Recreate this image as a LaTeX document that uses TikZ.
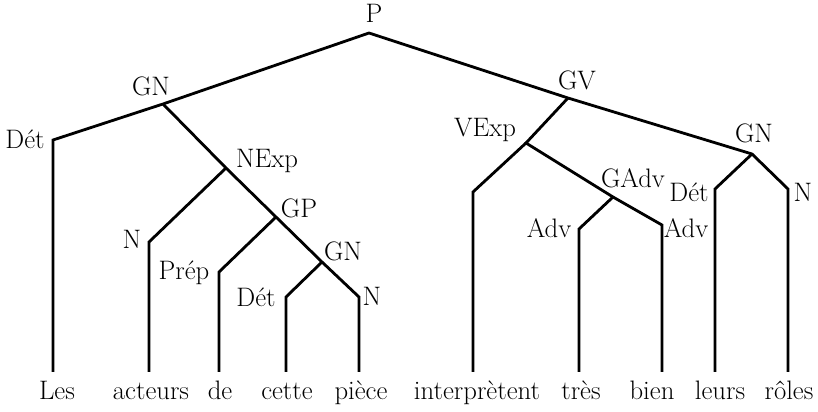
\documentclass[tikz,border=0pt]{standalone}
\usepackage{fontspec}
\begin{document}
\begin{tikzpicture}[x=0.025cm,y=-0.025cm,
	br/.style={line width=2pt,line join=miter},
	lab/.style={anchor=base,inner sep=0pt,font=\fontsize{19}{22}\selectfont},
	word/.style={anchor=base,inner sep=0pt,font=\fontsize{19}{22}\selectfont}]
	\useasboundingbox (0,0) rectangle (818,412);
	% branching points
	\coordinate (p) at (369,33);
	\coordinate (gnA) at (163,104);
	\coordinate (dA) at (53,140);
	\coordinate (nexp) at (226,168);
	\coordinate (nA) at (149,242);
	\coordinate (gp) at (276,217);
	\coordinate (prep) at (219,272);
	\coordinate (gnB) at (322,262);
	\coordinate (dB) at (286,297);
	\coordinate (nB) at (359,297);
	\coordinate (gv) at (568,98);
	\coordinate (vexp) at (526,143);
	\coordinate (v) at (473,192);
	\coordinate (gadv) at (613,197);
	\coordinate (advA) at (579,229);
	\coordinate (advB) at (662,225);
	\coordinate (gnC) at (752,154);
	\coordinate (dC) at (715,189);
	\coordinate (nC) at (788,189);
	\coordinate (foot) at (0,372);
	% tree
	\draw[br] (dA |- foot) -- (dA) -- (gnA) -- (p) -- (gv) -- (gnC) -- (nC) -- (nC |- foot);
	\draw[br] (gnA) -- (nexp) -- (gp) -- (gnB) -- (nB) -- (nB |- foot);
	\draw[br] (nA |- foot) -- (nA) -- (nexp);
	\draw[br] (prep |- foot) -- (prep) -- (gp);
	\draw[br] (dB |- foot) -- (dB) -- (gnB);
	\draw[br] (gv) -- (vexp) -- (gadv) -- (advB) -- (advB |- foot);
	\draw[br] (v |- foot) -- (v) -- (vexp);
	\draw[br] (advA |- foot) -- (advA) -- (gadv);
	\draw[br] (dC |- foot) -- (dC) -- (gnC);
	% labels
	\node[lab] (lP) at (374,23) {P};
	\node[lab] (lGNa) at (151,96) {GN};
	\node[lab] (lDa) at (25,149) {Dét};
	\node[lab] (lNExp) at (267,168) {NExp};
	\node[lab] (lNa) at (132,249) {N};
	\node[lab] (lGP) at (299,218) {GP};
	\node[lab] (lPrep) at (184,280) {Prép};
	\node[lab] (lGNb) at (343,261) {GN};
	\node[lab] (lDb) at (256,307) {Dét};
	\node[lab] (lNb) at (372,306) {N};
	\node[lab] (lGV) at (577,90) {GV};
	\node[lab] (lVExp) at (485,137) {VExp};
	\node[lab] (lGNc) at (754,143) {GN};
	\node[lab] (lGAdv) at (633,188) {GAdv};
	\node[lab] (lDc) at (689,202) {Dét};
	\node[lab] (lNc) at (803,202) {N};
	\node[lab] (lAdvA) at (549,238) {Adv};
	\node[lab] (lAdvB) at (686,238) {Adv};
	% words
	\node[word] (wLes) at (57,400) {Les};
	\node[word] (wActeurs) at (151,400) {acteurs};
	\node[word] (wDe) at (220,400) {de};
	\node[word] (wCette) at (287,400) {cette};
	\node[word] (wPiece) at (361,400) {pièce};
	\node[word] (wInterp) at (477,400) {interprètent};
	\node[word] (wTres) at (581,400) {très};
	\node[word] (wBien) at (652,400) {bien};
	\node[word] (wLeurs) at (720,400) {leurs};
	\node[word] (wRoles) at (789,400) {rôles};
\end{tikzpicture}
\end{document}
